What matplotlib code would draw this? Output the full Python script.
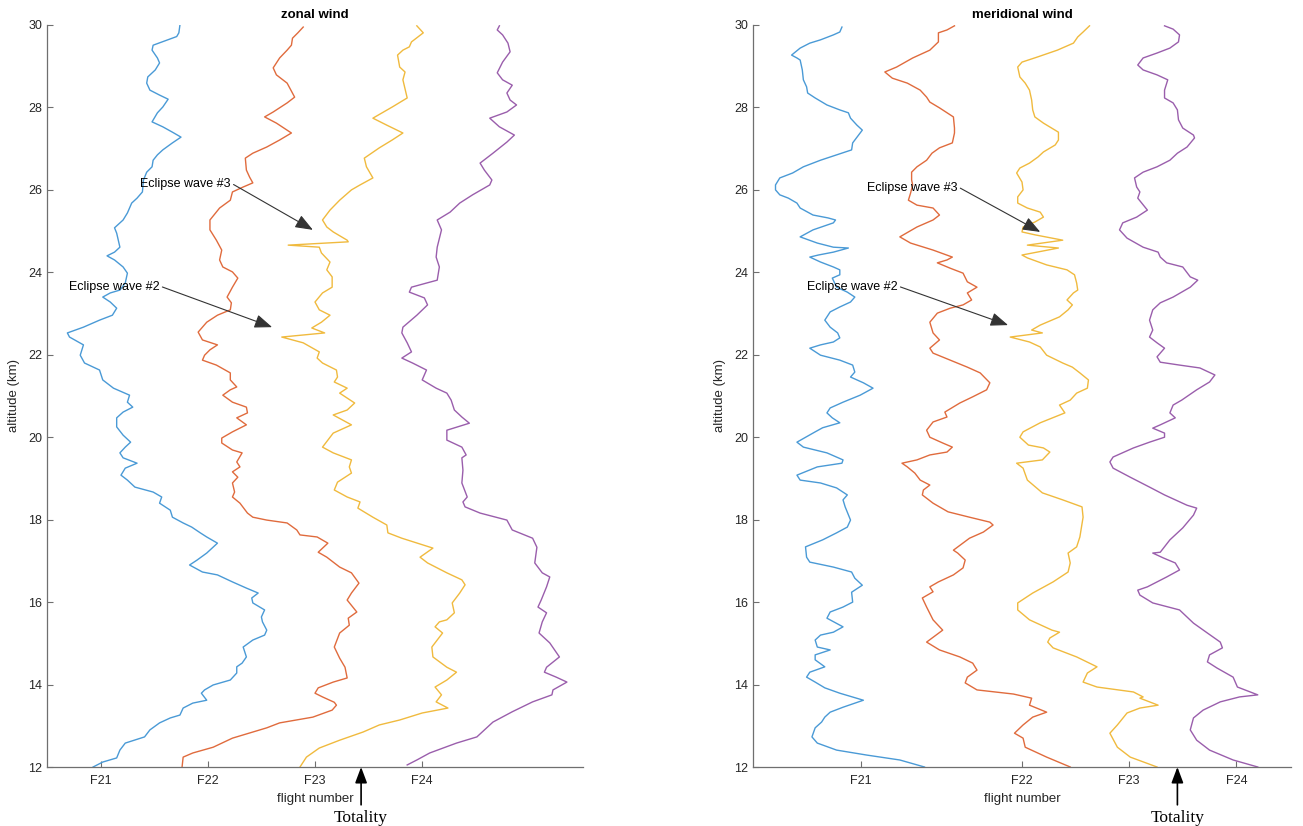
import numpy as np
import matplotlib
matplotlib.use("Agg")
import matplotlib.pyplot as plt

plt.rcParams['font.family'] = ['Liberation Sans', 'DejaVu Sans']

# --------- DATA (altitude km, plotted x position in flight-number units) ----------
zonal_f21 = [(30.00, 1.74), (29.81, 1.73), (29.72, 1.71), (29.51, 1.49), (29.39, 1.48), (29.20, 1.53),
             (29.08, 1.55), (28.91, 1.51), (28.74, 1.44), (28.59, 1.43), (28.42, 1.46), (28.30, 1.55),
             (28.20, 1.63), (28.01, 1.58), (27.87, 1.53), (27.65, 1.48), (27.53, 1.58), (27.40, 1.67),
             (27.28, 1.75), (27.14, 1.67), (26.97, 1.58), (26.85, 1.53), (26.72, 1.49), (26.56, 1.48),
             (26.43, 1.43), (26.24, 1.40), (25.95, 1.39), (25.80, 1.34), (25.68, 1.29), (25.44, 1.25),
             (25.27, 1.21), (25.08, 1.13), (24.95, 1.15), (24.61, 1.18), (24.49, 1.13), (24.40, 1.06),
             (24.30, 1.13), (24.13, 1.21), (23.98, 1.25), (23.74, 1.23), (23.57, 1.18), (23.50, 1.09),
             (23.40, 1.02), (23.28, 1.09), (23.13, 1.15), (22.96, 1.11), (22.84, 0.99), (22.67, 0.84),
             (22.53, 0.69), (22.43, 0.71), (22.24, 0.84), (21.99, 0.81), (21.80, 0.85), (21.63, 0.99),
             (21.39, 1.02), (21.19, 1.12), (21.02, 1.27), (20.85, 1.25), (20.73, 1.30), (20.61, 1.21),
             (20.47, 1.15), (20.25, 1.15), (20.05, 1.21), (19.88, 1.28), (19.76, 1.23), (19.62, 1.18),
             (19.50, 1.21), (19.37, 1.34), (19.25, 1.23), (19.08, 1.19), (18.96, 1.25), (18.79, 1.32),
             (18.67, 1.49), (18.55, 1.57), (18.40, 1.55), (18.23, 1.65), (18.06, 1.67), (17.92, 1.77),
             (17.82, 1.85), (17.68, 1.93), (17.58, 1.99), (17.43, 2.09), (17.19, 1.99), (17.02, 1.90),
             (16.90, 1.83), (16.73, 1.95), (16.66, 2.09), (16.49, 2.23), (16.34, 2.36), (16.22, 2.47),
             (16.10, 2.41), (15.98, 2.42), (15.81, 2.53), (15.64, 2.50), (15.52, 2.51), (15.32, 2.55),
             (15.20, 2.53), (15.08, 2.42), (14.91, 2.33), (14.67, 2.36), (14.52, 2.32), (14.43, 2.27),
             (14.28, 2.27), (14.11, 2.21), (13.99, 2.05), (13.87, 1.97), (13.79, 1.94), (13.62, 1.99),
             (13.55, 1.86), (13.43, 1.77), (13.26, 1.74), (13.19, 1.65), (13.07, 1.55), (12.90, 1.46),
             (12.73, 1.41), (12.58, 1.23), (12.41, 1.18), (12.22, 1.15), (12.12, 1.02), (12.00, 0.93)]

zonal_f22 = [(29.95, 2.89), (29.81, 2.84), (29.68, 2.79), (29.51, 2.78), (29.39, 2.74), (29.20, 2.67),
             (28.96, 2.61), (28.79, 2.64), (28.59, 2.74), (28.25, 2.81), (28.11, 2.74), (27.89, 2.61),
             (27.77, 2.53), (27.62, 2.64), (27.38, 2.78), (27.21, 2.67), (27.04, 2.55), (26.89, 2.42),
             (26.77, 2.35), (26.48, 2.36), (26.31, 2.39), (26.17, 2.42), (26.07, 2.33), (25.95, 2.23),
             (25.75, 2.21), (25.56, 2.11), (25.27, 2.02), (25.03, 2.02), (24.78, 2.08), (24.54, 2.13),
             (24.30, 2.11), (24.13, 2.14), (24.01, 2.23), (23.86, 2.28), (23.64, 2.23), (23.40, 2.18),
             (23.26, 2.22), (23.09, 2.21), (22.96, 2.09), (22.79, 1.99), (22.55, 1.91), (22.36, 1.95),
             (22.24, 2.09), (22.12, 2.02), (21.99, 1.97), (21.87, 1.95), (21.75, 2.08), (21.56, 2.21),
             (21.39, 2.21), (21.22, 2.27), (21.15, 2.21), (21.02, 2.14), (20.85, 2.23), (20.73, 2.36),
             (20.59, 2.37), (20.47, 2.27), (20.30, 2.36), (20.13, 2.23), (19.98, 2.13), (19.86, 2.13),
             (19.69, 2.23), (19.62, 2.32), (19.40, 2.27), (19.28, 2.30), (19.16, 2.23), (19.03, 2.28),
             (18.89, 2.23), (18.67, 2.25), (18.55, 2.23), (18.40, 2.30), (18.16, 2.37), (18.06, 2.42),
             (17.99, 2.55), (17.92, 2.74), (17.75, 2.83), (17.63, 2.86), (17.58, 3.02), (17.43, 3.12),
             (17.21, 3.03), (17.09, 3.11), (16.85, 3.23), (16.71, 3.34), (16.46, 3.41), (16.22, 3.34),
             (16.05, 3.30), (15.76, 3.39), (15.61, 3.31), (15.44, 3.32), (15.25, 3.23), (14.91, 3.18),
             (14.64, 3.23), (14.42, 3.28), (14.16, 3.30), (14.06, 3.17), (13.92, 3.03), (13.79, 3.00),
             (13.70, 3.07), (13.57, 3.18), (13.50, 3.20), (13.38, 3.16), (13.21, 2.98), (13.07, 2.67),
             (12.95, 2.55), (12.70, 2.23), (12.48, 2.05), (12.34, 1.86), (12.24, 1.77), (12.00, 1.76)]

zonal_f23 = [(29.98, 3.95), (29.81, 4.01), (29.71, 3.96), (29.59, 3.90), (29.47, 3.88), (29.39, 3.82),
             (29.27, 3.77), (28.98, 3.79), (28.86, 3.84), (28.67, 3.82), (28.23, 3.86), (28.01, 3.72),
             (27.74, 3.54), (27.57, 3.67), (27.38, 3.82), (27.21, 3.72), (27.02, 3.60), (26.77, 3.46),
             (26.56, 3.48), (26.29, 3.54), (26.12, 3.42), (26.00, 3.34), (25.75, 3.23), (25.51, 3.14),
             (25.27, 3.07), (25.10, 3.11), (24.98, 3.17), (24.78, 3.30), (24.74, 3.31), (24.66, 2.75),
             (24.61, 3.04), (24.47, 3.06), (24.25, 3.14), (24.06, 3.11), (23.89, 3.16), (23.64, 3.16),
             (23.50, 3.07), (23.28, 3.00), (23.09, 3.04), (22.96, 3.14), (22.79, 3.06), (22.65, 2.97),
             (22.53, 3.09), (22.43, 2.69), (22.29, 2.89), (22.07, 3.04), (21.92, 3.02), (21.80, 3.07),
             (21.63, 3.20), (21.46, 3.21), (21.34, 3.18), (21.19, 3.30), (21.07, 3.23), (20.95, 3.30),
             (20.83, 3.37), (20.66, 3.30), (20.54, 3.17), (20.30, 3.34), (20.10, 3.17), (19.76, 3.07),
             (19.62, 3.17), (19.45, 3.34), (19.28, 3.32), (19.13, 3.34), (18.91, 3.21), (18.72, 3.18),
             (18.55, 3.30), (18.43, 3.42), (18.28, 3.40), (18.06, 3.54), (17.87, 3.67), (17.68, 3.68),
             (17.55, 3.81), (17.31, 4.10), (17.09, 3.98), (16.95, 4.05), (16.71, 4.23), (16.54, 4.37),
             (16.42, 4.40), (16.22, 4.35), (15.98, 4.28), (15.74, 4.30), (15.57, 4.23), (15.52, 4.16),
             (15.40, 4.12), (15.25, 4.19), (14.91, 4.09), (14.67, 4.10), (14.42, 4.23), (14.30, 4.32),
             (14.11, 4.23), (13.94, 4.12), (13.75, 4.18), (13.58, 4.13), (13.43, 4.24), (13.31, 4.00),
             (13.14, 3.79), (13.02, 3.60), (12.85, 3.45), (12.65, 3.23), (12.46, 3.04), (12.24, 2.92),
             (12.00, 2.86)]

zonal_f24 = [(29.98, 4.72), (29.88, 4.70), (29.76, 4.75), (29.56, 4.80), (29.35, 4.82), (29.10, 4.75),
             (28.84, 4.70), (28.67, 4.75), (28.54, 4.84), (28.35, 4.79), (28.18, 4.82), (28.06, 4.88),
             (27.89, 4.79), (27.74, 4.63), (27.53, 4.72), (27.33, 4.86), (27.16, 4.79), (26.89, 4.66),
             (26.65, 4.54), (26.48, 4.58), (26.24, 4.65), (26.12, 4.63), (25.88, 4.47), (25.68, 4.35),
             (25.46, 4.26), (25.27, 4.14), (25.03, 4.18), (24.61, 4.14), (24.37, 4.13), (24.13, 4.16),
             (23.81, 4.14), (23.74, 4.04), (23.64, 3.90), (23.52, 3.88), (23.38, 4.02), (23.21, 4.05),
             (22.96, 3.95), (22.67, 3.82), (22.53, 3.81), (22.29, 3.86), (22.07, 3.90), (21.92, 3.81),
             (21.80, 3.91), (21.63, 4.04), (21.39, 4.00), (21.19, 4.13), (21.07, 4.23), (20.90, 4.27),
             (20.66, 4.30), (20.49, 4.37), (20.34, 4.44), (20.17, 4.23), (19.93, 4.23), (19.76, 4.37),
             (19.57, 4.41), (19.50, 4.37), (19.20, 4.38), (18.89, 4.37), (18.55, 4.42), (18.43, 4.38),
             (18.31, 4.40), (18.16, 4.54), (17.99, 4.79), (17.75, 4.84), (17.55, 5.03), (17.33, 5.07),
             (16.95, 5.05), (16.71, 5.12), (16.61, 5.19), (16.37, 5.16), (16.05, 5.11), (15.88, 5.08),
             (15.74, 5.16), (15.52, 5.12), (15.25, 5.09), (15.01, 5.19), (14.67, 5.28), (14.42, 5.16),
             (14.30, 5.14), (14.18, 5.25), (14.06, 5.35), (13.87, 5.22), (13.75, 5.21), (13.58, 5.03),
             (13.34, 4.84), (13.09, 4.66), (12.73, 4.51), (12.58, 4.32), (12.34, 4.07), (12.17, 3.95),
             (12.05, 3.86)]

merid_f21 = [(29.95, 0.32), (29.83, 0.30), (29.76, 0.24), (29.64, 0.12), (29.56, 0.02), (29.44, -0.07),
             (29.27, -0.15), (29.20, -0.10), (29.15, -0.07), (28.91, -0.05), (28.67, -0.04), (28.50, -0.01),
             (28.35, 0.00), (28.23, 0.07), (28.06, 0.18), (27.94, 0.30), (27.87, 0.38), (27.74, 0.40),
             (27.57, 0.46), (27.45, 0.51), (27.28, 0.46), (27.14, 0.42), (26.97, 0.41), (26.85, 0.27),
             (26.72, 0.12), (26.56, -0.04), (26.41, -0.14), (26.29, -0.26), (26.12, -0.30), (26.00, -0.30),
             (25.88, -0.26), (25.80, -0.18), (25.68, -0.10), (25.56, -0.07), (25.39, 0.05), (25.32, 0.19),
             (25.27, 0.26), (25.20, 0.24), (25.03, 0.05), (24.86, -0.07), (24.71, 0.09), (24.61, 0.24),
             (24.59, 0.38), (24.49, 0.24), (24.42, 0.10), (24.37, 0.02), (24.25, 0.12), (24.13, 0.24),
             (24.06, 0.30), (23.94, 0.30), (23.86, 0.23), (23.64, 0.27), (23.52, 0.37), (23.40, 0.44),
             (23.28, 0.40), (23.16, 0.30), (23.04, 0.21), (22.84, 0.16), (22.67, 0.21), (22.53, 0.28),
             (22.41, 0.30), (22.31, 0.24), (22.24, 0.12), (22.16, 0.02), (21.99, 0.12), (21.87, 0.30),
             (21.75, 0.42), (21.58, 0.44), (21.46, 0.40), (21.32, 0.52), (21.19, 0.61), (21.02, 0.49),
             (20.85, 0.33), (20.71, 0.21), (20.59, 0.18), (20.47, 0.23), (20.35, 0.30), (20.23, 0.14),
             (20.13, 0.07), (19.88, -0.10), (19.76, -0.04), (19.62, 0.18), (19.45, 0.33), (19.37, 0.32),
             (19.28, 0.09), (19.08, -0.10), (18.96, -0.07), (18.89, 0.12), (18.77, 0.27), (18.60, 0.37),
             (18.48, 0.33), (18.31, 0.35), (17.99, 0.40), (17.82, 0.37), (17.68, 0.27), (17.51, 0.14),
             (17.34, -0.02), (17.09, -0.01), (16.97, 0.02), (16.85, 0.24), (16.73, 0.41), (16.58, 0.44),
             (16.41, 0.51), (16.24, 0.41), (16.00, 0.42), (15.88, 0.33), (15.76, 0.21), (15.61, 0.18),
             (15.40, 0.33), (15.27, 0.24), (15.20, 0.12), (15.08, 0.07), (14.91, 0.09), (14.84, 0.21),
             (14.72, 0.07), (14.60, 0.07), (14.43, 0.16), (14.30, 0.02), (14.18, -0.01), (14.06, 0.07),
             (13.92, 0.16), (13.79, 0.30), (13.62, 0.52), (13.45, 0.33), (13.33, 0.21), (13.21, 0.16),
             (13.09, 0.13), (12.95, 0.07), (12.73, 0.04), (12.58, 0.09), (12.41, 0.27), (12.29, 0.55),
             (12.17, 0.86), (12.00, 1.09)]

merid_f22 = [(29.98, 1.37), (29.88, 1.30), (29.81, 1.22), (29.59, 1.22), (29.39, 1.14), (29.20, 0.98),
             (28.98, 0.83), (28.86, 0.72), (28.71, 0.79), (28.59, 0.93), (28.42, 1.05), (28.25, 1.11),
             (28.13, 1.14), (27.99, 1.23), (27.77, 1.36), (27.50, 1.37), (27.38, 1.37), (27.14, 1.35),
             (27.02, 1.23), (26.89, 1.16), (26.72, 1.11), (26.56, 1.02), (26.43, 0.97), (26.24, 0.97),
             (26.12, 0.98), (25.92, 0.96), (25.75, 0.94), (25.63, 1.02), (25.56, 1.17), (25.39, 1.23),
             (25.27, 1.17), (25.10, 1.02), (24.86, 0.86), (24.71, 0.96), (24.54, 1.17), (24.37, 1.35),
             (24.30, 1.30), (24.23, 1.21), (24.10, 1.33), (23.98, 1.45), (23.77, 1.49), (23.64, 1.58),
             (23.50, 1.49), (23.33, 1.53), (23.21, 1.45), (23.13, 1.33), (23.01, 1.21), (22.79, 1.14),
             (22.53, 1.17), (22.36, 1.23), (22.16, 1.14), (22.04, 1.17), (21.87, 1.33), (21.70, 1.49),
             (21.56, 1.61), (21.32, 1.70), (21.15, 1.67), (20.98, 1.54), (20.83, 1.42), (20.61, 1.28),
             (20.49, 1.30), (20.37, 1.17), (20.17, 1.11), (20.00, 1.14), (19.86, 1.26), (19.76, 1.35),
             (19.64, 1.30), (19.57, 1.14), (19.45, 1.02), (19.37, 0.88), (19.28, 0.93), (19.13, 1.00),
             (18.96, 1.05), (18.84, 1.14), (18.72, 1.08), (18.60, 1.07), (18.40, 1.17), (18.19, 1.31),
             (18.06, 1.51), (17.94, 1.70), (17.87, 1.73), (17.70, 1.64), (17.55, 1.51), (17.26, 1.36),
             (17.19, 1.40), (17.02, 1.47), (16.83, 1.45), (16.66, 1.36), (16.49, 1.22), (16.37, 1.14),
             (16.25, 1.17), (16.10, 1.07), (15.88, 1.11), (15.57, 1.17), (15.32, 1.26), (15.03, 1.11),
             (14.84, 1.23), (14.67, 1.42), (14.52, 1.54), (14.35, 1.58), (14.18, 1.49), (14.04, 1.47),
             (13.87, 1.58), (13.77, 1.92), (13.67, 2.09), (13.50, 2.07), (13.33, 2.23), (13.21, 2.10),
             (13.02, 2.01), (12.82, 1.93), (12.70, 2.01), (12.48, 2.03), (12.24, 2.23), (12.00, 2.45)]

merid_f23 = [(29.98, 2.63), (29.83, 2.57), (29.71, 2.52), (29.56, 2.48), (29.39, 2.33), (29.22, 2.14),
             (29.10, 2.00), (28.98, 1.96), (28.74, 1.98), (28.59, 2.03), (28.42, 2.07), (28.18, 2.09),
             (27.94, 2.10), (27.77, 2.12), (27.62, 2.20), (27.40, 2.34), (27.21, 2.34), (27.09, 2.31),
             (26.92, 2.20), (26.80, 2.15), (26.65, 2.07), (26.53, 1.98), (26.41, 1.95), (26.19, 2.00),
             (26.00, 2.01), (25.83, 1.96), (25.68, 1.96), (25.56, 2.05), (25.46, 2.17), (25.34, 2.20),
             (25.22, 2.12), (25.10, 2.01), (24.98, 2.00), (24.91, 2.12), (24.78, 2.38), (24.66, 2.05),
             (24.59, 2.34), (24.42, 2.00), (24.35, 2.05), (24.18, 2.23), (24.06, 2.42), (23.94, 2.49),
             (23.74, 2.51), (23.57, 2.52), (23.50, 2.48), (23.33, 2.42), (23.21, 2.47), (23.09, 2.43),
             (22.92, 2.35), (22.72, 2.17), (22.60, 2.09), (22.53, 2.19), (22.43, 1.89), (22.31, 2.07),
             (22.19, 2.17), (21.99, 2.23), (21.80, 2.38), (21.70, 2.47), (21.56, 2.54), (21.39, 2.62),
             (21.19, 2.61), (21.07, 2.51), (20.90, 2.45), (20.78, 2.35), (20.59, 2.40), (20.35, 2.17),
             (20.13, 2.01), (20.00, 1.98), (19.81, 2.06), (19.74, 2.20), (19.64, 2.26), (19.45, 2.19),
             (19.37, 1.95), (19.25, 2.01), (18.96, 2.05), (18.65, 2.19), (18.48, 2.38), (18.31, 2.56),
             (18.06, 2.57), (17.58, 2.54), (17.34, 2.51), (17.19, 2.43), (16.95, 2.45), (16.73, 2.43),
             (16.49, 2.29), (16.22, 2.10), (15.98, 1.96), (15.81, 1.96), (15.57, 2.07), (15.32, 2.28),
             (15.27, 2.35), (15.13, 2.26), (15.03, 2.24), (14.89, 2.29), (14.67, 2.51), (14.43, 2.70),
             (14.28, 2.61), (14.06, 2.57), (13.94, 2.70), (13.82, 3.04), (13.70, 3.13), (13.67, 3.10),
             (13.50, 3.27), (13.43, 3.10), (13.31, 2.98), (13.02, 2.89), (12.82, 2.82), (12.48, 2.89),
             (12.24, 3.01), (12.00, 3.26)]

merid_f24 = [(29.98, 3.33), (29.90, 3.41), (29.76, 3.47), (29.59, 3.46), (29.44, 3.38), (29.32, 3.26),
             (29.20, 3.13), (29.03, 3.08), (28.91, 3.13), (28.79, 3.26), (28.67, 3.36), (28.42, 3.33),
             (28.23, 3.33), (28.11, 3.41), (27.94, 3.45), (27.70, 3.46), (27.50, 3.50), (27.33, 3.60),
             (27.26, 3.61), (27.04, 3.54), (26.89, 3.45), (26.72, 3.38), (26.56, 3.26), (26.43, 3.13),
             (26.29, 3.05), (26.07, 3.07), (25.95, 3.10), (25.80, 3.08), (25.51, 3.17), (25.34, 3.07),
             (25.20, 2.94), (25.03, 2.91), (24.83, 2.98), (24.61, 3.13), (24.49, 3.27), (24.37, 3.29),
             (24.23, 3.35), (24.13, 3.50), (23.89, 3.57), (23.81, 3.64), (23.64, 3.57), (23.40, 3.41),
             (23.26, 3.29), (23.09, 3.22), (22.84, 3.19), (22.60, 3.22), (22.43, 3.19), (22.29, 3.26),
             (22.16, 3.33), (21.95, 3.26), (21.82, 3.29), (21.75, 3.47), (21.68, 3.66), (21.51, 3.80),
             (21.34, 3.75), (21.15, 3.63), (20.90, 3.49), (20.78, 3.41), (20.59, 3.38), (20.47, 3.43),
             (20.30, 3.29), (20.22, 3.22), (20.10, 3.33), (20.00, 3.33), (19.88, 3.19), (19.74, 3.04),
             (19.52, 2.85), (19.40, 2.82), (19.25, 2.85), (19.03, 3.01), (18.79, 3.19), (18.60, 3.33),
             (18.35, 3.54), (18.28, 3.63), (18.11, 3.60), (17.80, 3.50), (17.51, 3.38), (17.21, 3.29),
             (17.19, 3.22), (17.07, 3.32), (16.95, 3.43), (16.78, 3.47), (16.61, 3.35), (16.37, 3.17),
             (16.29, 3.08), (16.17, 3.10), (15.98, 3.22), (15.81, 3.47), (15.49, 3.60), (15.25, 3.73),
             (15.03, 3.85), (14.89, 3.87), (14.72, 3.75), (14.55, 3.73), (14.40, 3.82), (14.18, 3.97),
             (13.94, 4.01), (13.75, 4.20), (13.70, 4.03), (13.58, 3.85), (13.38, 3.69), (13.19, 3.60),
             (12.90, 3.57), (12.65, 3.63), (12.41, 3.75), (12.17, 3.97), (12.00, 4.20)]

zonal_ticks = [1, 2, 3, 4]
merid_ticks = [0.5, 2, 3, 4]
flight_labels = ["F21", "F22", "F23", "F24"]
alt_ticks = list(range(12, 31, 2))
colors = ["#4a9ad6", "#e06b3d", "#f0ba3e", "#9a5eac"]

zonal_notes = [("Eclipse wave #3", (1.37, 26.14), (2.98, 25.03)),
               ("Eclipse wave #2", (0.705, 23.64), (2.60, 22.67))]
merid_notes = [("Eclipse wave #3", (0.554, 26.05), (2.17, 24.98)),
               ("Eclipse wave #2", (-0.006, 23.64), (1.87, 22.72))]
zonal_totality = 3.43
merid_totality = 3.45
# ------------------------------------------------------------------------------------


def draw_panel(ax, curves, title, xlim, ticks, notes, totality_x):
    for curve, c in zip(curves, colors):
        arr = np.array(curve)
        ax.plot(arr[:, 1], arr[:, 0], color=c, lw=1.0)
    ax.set_xlim(*xlim)
    ax.set_ylim(12, 30)
    ax.set_xticks(ticks)
    ax.set_xticklabels(flight_labels)
    ax.set_yticks(alt_ticks)
    for s in ["top", "right"]:
        ax.spines[s].set_visible(False)
    for s in ["left", "bottom"]:
        ax.spines[s].set_color("#6f6f6f")
        ax.spines[s].set_linewidth(0.9)
    ax.tick_params(direction="in", length=4, width=0.8, color="#6f6f6f",
                   labelsize=9, labelcolor="#262626")
    ax.tick_params(axis="x", pad=6)
    ax.set_title(title, fontsize=9.5, fontweight="bold", pad=5)
    ax.set_xlabel("flight number", fontsize=9.5, color="#262626", labelpad=4)
    ax.set_ylabel("altitude (km)", fontsize=9.5, color="#262626", labelpad=6)

    for text, txy, hxy in notes:
        ax.annotate(text, xy=hxy, xytext=txy, fontsize=9, ha="left", va="center",
                    arrowprops=dict(arrowstyle="-|>,head_length=0.9,head_width=0.35",
                                    color="#333333", lw=0.8, relpos=(1, 0.6),
                                    shrinkA=0, shrinkB=0, mutation_scale=12))

    ax.annotate("Totality", xy=(totality_x, 12), xytext=(0, -37),
                textcoords="offset points", ha="center", va="center",
                family=["Liberation Serif", "DejaVu Serif"], fontsize=12.5,
                annotation_clip=False,
                arrowprops=dict(arrowstyle="-|>,head_length=0.8,head_width=0.3",
                                color="black", lw=1.2, shrinkA=2, shrinkB=0,
                                mutation_scale=12))


fig = plt.figure(figsize=(13.03, 8.26), dpi=100)
ax1 = fig.add_axes([47 / 1303, 59 / 826, 536 / 1303, 742 / 826])
ax2 = fig.add_axes([753 / 1303, 59 / 826, 538 / 1303, 742 / 826])

draw_panel(ax1, [zonal_f21, zonal_f22, zonal_f23, zonal_f24], "zonal wind",
           (0.5, 5.5), zonal_ticks, zonal_notes, zonal_totality)
draw_panel(ax2, [merid_f21, merid_f22, merid_f23, merid_f24], "meridional wind",
           (-0.51, 4.51), merid_ticks, merid_notes, merid_totality)

fig.savefig("out.png", dpi=100)
